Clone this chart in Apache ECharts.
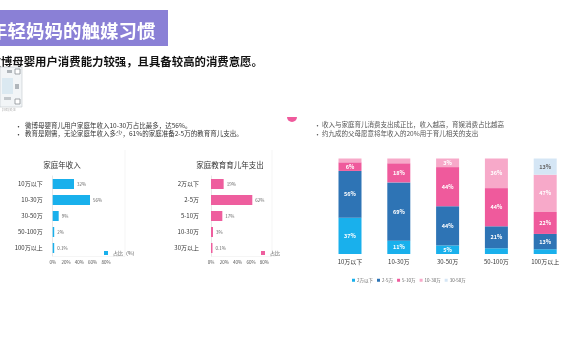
<!DOCTYPE html>
<html>
<head>
<meta charset="utf-8">
<script src="https://cdn.jsdelivr.net/npm/echarts@6/dist/echarts.min.js"></script>
<style>
html,body{margin:0;padding:0;background:#fff;}
#main{width:570px;height:360px;}
</style>
</head>
<body>
<div id="main"></div>
<script>
// ---- data ----
var incomeCats = ['10万以下', '10-30万', '30-50万', '50-100万', '100万以上'];
var incomeVals = [32, 56, 9, 2, 0.1];
var eduCats = ['2万以下', '2-5万', '5-10万', '10-30万', '30万以上'];
var eduVals = [19, 62, 17, 3, 0.1];
var pctTicks = [0, 20, 40, 60, 80];

var stackCats = ['10万以下', '10-30万', '30-50万', '50-100万', '100万以上'];
var stackNames = ['2万以下', '2-5万', '5-10万', '10-30万', '30-50万'];
var stack1 = [38, 14, 9, 6, 5];
var stack2 = [49, 61, 41, 23, 16];
var stack3 = [9, 20, 41, 40, 23];
var stack4 = [4, 5, 9, 31, 39];
var stack5 = [0, 0, 0, 0, 17];
var label1 = ['37%', '11%', '5%', '', ''];
var label2 = ['56%', '69%', '44%', '21%', '13%'];
var label3 = ['6%', '18%', '44%', '44%', '22%'];
var label4 = ['', '', '3%', '36%', '47%'];
var label5 = ['', '', '', '', '13%'];

var FONT = '"Noto Sans CJK SC", "Noto Sans", sans-serif';
var CYAN = '#19b0ec', BLUE = '#2e74b5', PINK = '#ef5a9c', LPINK = '#f7a9c9', LBLUE = '#d5e6f5';
var PINK2 = '#ee5e9e';

var chart = echarts.init(document.getElementById('main'), null, {renderer: 'canvas'});

function stackSeries(name, data, labels, color, labelColor) {
  return {
    name: name, type: 'bar', stack: 'total', xAxisIndex: 2, yAxisIndex: 2,
    data: data, barWidth: 23,
    itemStyle: {color: color},
    label: {
      show: true, position: 'inside', fontSize: 5.5, fontFamily: FONT, fontWeight: 'bold',
      color: labelColor,
      formatter: function (p) { return labels[p.dataIndex]; }
    }
  };
}

var catAxisStyle = function (margin) {
  return {
    axisLine: {show: true, lineStyle: {color: '#d9d9d9', width: 0.6}},
    axisTick: {show: false},
    axisLabel: {fontSize: 6, color: '#333', fontFamily: FONT, margin: margin}
  };
};

var option = {
  animation: false,
  backgroundColor: '#ffffff',
  textStyle: {fontFamily: FONT},
  grid: [
    {left: 52.7, top: 176, width: 53.3, height: 80},
    {left: 211, top: 176, width: 53.3, height: 80},
    {left: 325.6, top: 158.5, width: 244, height: 95.5}
  ],
  xAxis: [
    {gridIndex: 0, type: 'value', min: 0, max: 80, interval: 20,
      splitLine: {show: false}, axisLine: {show: false}, axisTick: {show: false},
      axisLabel: {fontSize: 4.5, color: '#555', margin: 4, formatter: function (v) { return v + '%'; }}},
    {gridIndex: 1, type: 'value', min: 0, max: 80, interval: 20,
      splitLine: {show: false}, axisLine: {show: false}, axisTick: {show: false},
      axisLabel: {fontSize: 4.5, color: '#555', margin: 4, formatter: function (v) { return v + '%'; }}},
    {gridIndex: 2, type: 'category', data: stackCats,
      axisLine: {show: false}, axisTick: {show: false},
      axisLabel: {fontSize: 6, color: '#333', margin: 5, fontFamily: FONT}}
  ],
  yAxis: [
    Object.assign({gridIndex: 0, type: 'category', data: incomeCats, inverse: true}, catAxisStyle(10)),
    Object.assign({gridIndex: 1, type: 'category', data: eduCats, inverse: true}, catAxisStyle(12)),
    {gridIndex: 2, type: 'value', min: 0, max: 100, show: false, splitLine: {show: false}}
  ],
  legend: [
    {data: ['占比（%）'], left: 99, top: 245.5, itemWidth: 4, itemHeight: 4, itemGap: 2,
      textStyle: {fontSize: 5, color: '#555', fontFamily: FONT}, icon: 'rect'},
    {data: ['占比'], left: 256, top: 245.5, itemWidth: 4, itemHeight: 4, itemGap: 2,
      textStyle: {fontSize: 5, color: '#555', fontFamily: FONT}, icon: 'rect'},
    {data: stackNames, left: 347, top: 273, itemWidth: 3, itemHeight: 3, itemGap: 4,
      textStyle: {fontSize: 4.5, color: '#666', fontFamily: FONT, padding: [0, 0, 0, -3]}, icon: 'rect'}
  ],
  series: [
    {name: '占比（%）', type: 'bar', xAxisIndex: 0, yAxisIndex: 0, data: incomeVals,
      barWidth: 10, barMinHeight: 1.5, itemStyle: {color: CYAN},
      label: {show: true, position: 'right', distance: 3, fontSize: 4.5, color: '#666',
        formatter: function (p) { return p.value + '%'; }}},
    {name: '占比', type: 'bar', xAxisIndex: 1, yAxisIndex: 1, data: eduVals,
      barWidth: 10, barMinHeight: 1.5, itemStyle: {color: PINK2},
      label: {show: true, position: 'right', distance: 3, fontSize: 4.5, color: '#666',
        formatter: function (p) { return p.value + '%'; }}},
    stackSeries(stackNames[0], stack1, label1, CYAN, '#fff'),
    stackSeries(stackNames[1], stack2, label2, BLUE, '#fff'),
    stackSeries(stackNames[2], stack3, label3, PINK, '#fff'),
    stackSeries(stackNames[3], stack4, label4, LPINK, '#fff'),
    stackSeries(stackNames[4], stack5, label5, LBLUE, '#666')
  ],
  graphic: [
    // title banner
    {type: 'rect', shape: {x: 0, y: 10, width: 168, height: 36}, style: {fill: '#8a80d6'}},
    {type: 'text', x: -11, y: 31, style: {text: '年轻妈妈的触媒习惯', fill: '#fff', font: 'bold 18.5px ' + FONT, textVerticalAlign: 'middle'}},
    {type: 'text', x: -10.5, y: 62, style: {text: '微博母婴用户消费能力较强，且具备较高的消费意愿。', fill: '#111', font: 'bold 11.4px ' + FONT, textVerticalAlign: 'middle'}},
    // qr placeholder
    {type: 'rect', shape: {x: 0, y: 67, width: 22, height: 40}, style: {fill: '#f2f5f7', stroke: '#b5bcc2', lineWidth: 0.5}},
    {type: 'rect', shape: {x: 15, y: 69, width: 5, height: 5}, style: {fill: '#fff', stroke: '#8a9096', lineWidth: 0.8}},
    {type: 'rect', shape: {x: 15, y: 99, width: 5, height: 5}, style: {fill: '#fff', stroke: '#8a9096', lineWidth: 0.8}},
    {type: 'rect', shape: {x: 2, y: 78, width: 11, height: 16}, style: {fill: '#dbe9f1'}},
    {type: 'rect', shape: {x: 7, y: 70, width: 5, height: 3}, style: {fill: '#b0b6bb'}},
    {type: 'rect', shape: {x: 15, y: 84, width: 4, height: 5}, style: {fill: '#b0b6bb'}},
    {type: 'rect', shape: {x: 4, y: 97, width: 7, height: 3}, style: {fill: '#c3c8cc'}},
    {type: 'text', x: 2, y: 110, style: {text: '扫码关注', fill: '#aaa', font: '3.5px ' + FONT, textVerticalAlign: 'middle'}},
    // left bullets
    {type: 'text', x: 15, y: 126, style: {text: '•', fill: '#333', font: '7px ' + FONT, textVerticalAlign: 'middle'}},
    {type: 'text', x: 25, y: 126, style: {text: '微博母婴育儿用户家庭年收入10-30万占比最多，达56%。', fill: '#333', font: '6.5px ' + FONT, textVerticalAlign: 'middle'}},
    {type: 'text', x: 15, y: 134, style: {text: '•', fill: '#333', font: '7px ' + FONT, textVerticalAlign: 'middle'}},
    {type: 'text', x: 25, y: 134, style: {text: '教育是刚需，无论家庭年收入多少，61%的家庭准备2-5万的教育育儿支出。', fill: '#333', font: '6.5px ' + FONT, textVerticalAlign: 'middle'}},
    // chart titles
    {type: 'text', x: 62, y: 165, style: {text: '家庭年收入', fill: '#333', font: '7.5px ' + FONT, textAlign: 'center', textVerticalAlign: 'middle'}},
    {type: 'text', x: 230, y: 165, style: {text: '家庭教育育儿年支出', fill: '#333', font: '7.5px ' + FONT, textAlign: 'center', textVerticalAlign: 'middle'}},
    // faint chart frames
    {type: 'polyline', shape: {points: [[52.7, 256.5], [125, 256.5], [125, 150]]}, style: {stroke: '#eeeeee', lineWidth: 0.6, fill: null}},
    {type: 'polyline', shape: {points: [[211, 256.5], [272, 256.5], [272, 150]]}, style: {stroke: '#eeeeee', lineWidth: 0.6, fill: null}},
    // pink half-circle marker
    {type: 'sector', shape: {cx: 292, cy: 117, r0: 0, r: 5, startAngle: 0, endAngle: Math.PI}, style: {fill: '#ef5a9c'}},
    // right bullets
    {type: 'text', x: 314, y: 125, style: {text: '•', fill: '#555', font: '7px ' + FONT, textVerticalAlign: 'middle'}},
    {type: 'text', x: 322, y: 125, style: {text: '收入与家庭育儿消费支出成正比，收入越高，育娱消费占比越高', fill: '#555', font: '6.5px ' + FONT, textVerticalAlign: 'middle'}},
    {type: 'text', x: 314, y: 134, style: {text: '•', fill: '#555', font: '7px ' + FONT, textVerticalAlign: 'middle'}},
    {type: 'text', x: 322, y: 134, style: {text: '约九成的父母愿意将年收入的20%用于育儿相关的支出', fill: '#555', font: '6.5px ' + FONT, textVerticalAlign: 'middle'}}
  ]
};
chart.setOption(option);
</script>
</body>
</html>
